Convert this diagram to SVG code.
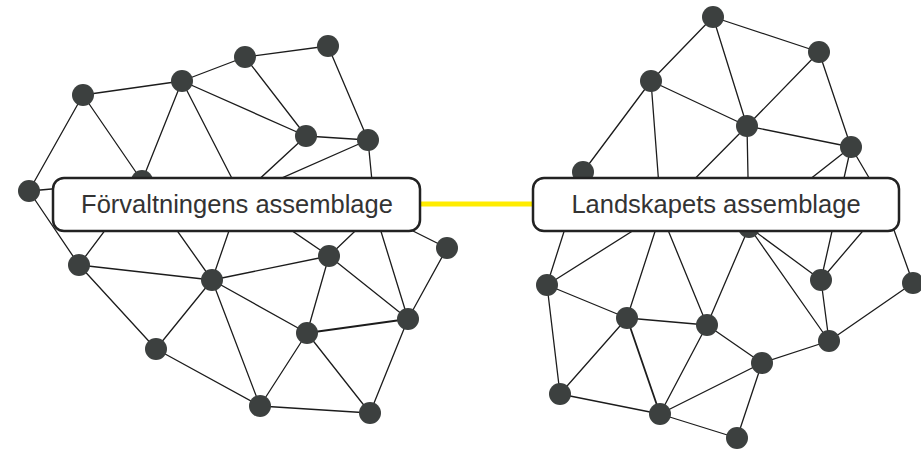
<svg xmlns="http://www.w3.org/2000/svg" width="921" height="451" viewBox="0 0 921 451">
<defs>
<style>
.e{stroke:#1c1c1c;stroke-width:1.3;fill:none;stroke-linecap:round}
.n{fill:#3c403f}
.box{fill:#ffffff;stroke:#222222;stroke-width:2.5}
.lbl{font-family:"Liberation Sans",Arial,sans-serif;font-size:25.5px;fill:#333333;text-anchor:middle}
.link{stroke:#ffec00;stroke-width:5;fill:none}
</style>
</defs>
<rect width="921" height="451" fill="#ffffff"/>
<g id="connectors">
<!-- left network -->
<line class="e" x1="83" y1="95" x2="182" y2="81"/>
<line class="e" x1="182" y1="81" x2="245" y2="57"/>
<line class="e" x1="245" y1="57" x2="328" y2="46"/>
<line class="e" x1="328" y1="46" x2="368" y2="140"/>
<line class="e" x1="245" y1="57" x2="306" y2="136"/>
<line class="e" x1="182" y1="81" x2="306" y2="136"/>
<line class="e" x1="306" y1="136" x2="368" y2="140"/>
<line class="e" x1="83" y1="95" x2="29" y2="191"/>
<line class="e" x1="83" y1="95" x2="142" y2="181"/>
<line class="e" x1="182" y1="81" x2="142" y2="181"/>
<line class="e" x1="182" y1="81" x2="241" y2="196"/>
<line class="e" x1="306" y1="136" x2="241" y2="196"/>
<line class="e" x1="368" y1="140" x2="241" y2="196"/>
<line class="e" x1="368" y1="140" x2="375" y2="212"/>
<line class="e" x1="29" y1="191" x2="142" y2="181"/>
<line class="e" x1="29" y1="191" x2="79" y2="265"/>
<line class="e" x1="142" y1="181" x2="79" y2="265"/>
<line class="e" x1="142" y1="181" x2="212" y2="280"/>
<line class="e" x1="241" y1="196" x2="212" y2="280"/>
<line class="e" x1="241" y1="196" x2="329" y2="256"/>
<line class="e" x1="375" y1="212" x2="329" y2="256"/>
<line class="e" x1="375" y1="212" x2="408" y2="319"/>
<line class="e" x1="375" y1="212" x2="447" y2="248"/>
<line class="e" x1="79" y1="265" x2="212" y2="280"/>
<line class="e" x1="79" y1="265" x2="156" y2="349"/>
<line class="e" x1="212" y1="280" x2="329" y2="256"/>
<line class="e" x1="212" y1="280" x2="156" y2="349"/>
<line class="e" x1="212" y1="280" x2="307" y2="333"/>
<line class="e" x1="212" y1="280" x2="260" y2="406"/>
<line class="e" x1="329" y1="256" x2="307" y2="333"/>
<line class="e" x1="329" y1="256" x2="408" y2="319"/>
<line class="e" x1="447" y1="248" x2="408" y2="319"/>
<line class="e" x1="307" y1="333" x2="408" y2="319" style="stroke-width:1.8"/>
<line class="e" x1="307" y1="333" x2="260" y2="406"/>
<line class="e" x1="307" y1="333" x2="370" y2="413"/>
<line class="e" x1="408" y1="319" x2="370" y2="413"/>
<line class="e" x1="156" y1="349" x2="260" y2="406"/>
<line class="e" x1="260" y1="406" x2="370" y2="413"/>
<!-- right network -->
<line class="e" x1="713" y1="17" x2="819" y2="52"/>
<line class="e" x1="713" y1="17" x2="651" y2="81"/>
<line class="e" x1="713" y1="17" x2="747" y2="126"/>
<line class="e" x1="819" y1="52" x2="747" y2="126"/>
<line class="e" x1="819" y1="52" x2="851" y2="147"/>
<line class="e" x1="651" y1="81" x2="747" y2="126"/>
<line class="e" x1="651" y1="81" x2="583" y2="172"/>
<line class="e" x1="651" y1="81" x2="661" y2="213"/>
<line class="e" x1="747" y1="126" x2="851" y2="147"/>
<line class="e" x1="747" y1="126" x2="661" y2="213"/>
<line class="e" x1="747" y1="126" x2="749" y2="227"/>
<line class="e" x1="851" y1="147" x2="749" y2="227"/>
<line class="e" x1="851" y1="147" x2="821" y2="280"/>
<line class="e" x1="851" y1="147" x2="885" y2="205"/>
<line class="e" x1="583" y1="172" x2="547" y2="285"/>
<line class="e" x1="661" y1="213" x2="547" y2="285"/>
<line class="e" x1="661" y1="213" x2="627" y2="318"/>
<line class="e" x1="661" y1="213" x2="707" y2="325"/>
<line class="e" x1="749" y1="227" x2="707" y2="325"/>
<line class="e" x1="749" y1="227" x2="821" y2="280"/>
<line class="e" x1="749" y1="227" x2="829" y2="341"/>
<line class="e" x1="885" y1="205" x2="821" y2="280"/>
<line class="e" x1="885" y1="205" x2="913" y2="283"/>
<line class="e" x1="547" y1="285" x2="627" y2="318"/>
<line class="e" x1="547" y1="285" x2="560" y2="394"/>
<line class="e" x1="627" y1="318" x2="707" y2="325"/>
<line class="e" x1="627" y1="318" x2="560" y2="394"/>
<line class="e" x1="627" y1="318" x2="660" y2="414" style="stroke-width:1.8"/>
<line class="e" x1="707" y1="325" x2="660" y2="414"/>
<line class="e" x1="707" y1="325" x2="762" y2="363"/>
<line class="e" x1="821" y1="280" x2="829" y2="341"/>
<line class="e" x1="913" y1="283" x2="829" y2="341"/>
<line class="e" x1="829" y1="341" x2="762" y2="363"/>
<line class="e" x1="762" y1="363" x2="660" y2="414"/>
<line class="e" x1="762" y1="363" x2="737" y2="438"/>
<line class="e" x1="560" y1="394" x2="660" y2="414"/>
<line class="e" x1="660" y1="414" x2="737" y2="438"/>
</g>
<g id="left-nodes">
<g id="L1"><circle class="n" cx="83" cy="95" r="11"/></g>
<g id="L2"><circle class="n" cx="182" cy="81" r="11"/></g>
<g id="L3"><circle class="n" cx="245" cy="57" r="11"/></g>
<g id="L4"><circle class="n" cx="328" cy="46" r="11"/></g>
<g id="L5"><circle class="n" cx="306" cy="136" r="11"/></g>
<g id="L6"><circle class="n" cx="368" cy="140" r="11"/></g>
<g id="L7"><circle class="n" cx="142" cy="181" r="11"/></g>
<g id="L8"><circle class="n" cx="29" cy="191" r="11"/></g>
<g id="L9"><circle class="n" cx="79" cy="265" r="11"/></g>
<g id="L10"><circle class="n" cx="212" cy="280" r="11"/></g>
<g id="L11"><circle class="n" cx="329" cy="256" r="11"/></g>
<g id="L12"><circle class="n" cx="447" cy="248" r="11"/></g>
<g id="L13"><circle class="n" cx="307" cy="333" r="11"/></g>
<g id="L14"><circle class="n" cx="408" cy="319" r="11"/></g>
<g id="L15"><circle class="n" cx="156" cy="349" r="11"/></g>
<g id="L16"><circle class="n" cx="260" cy="406" r="11"/></g>
<g id="L17"><circle class="n" cx="370" cy="413" r="11"/></g>
<g id="LH1"><circle class="n" cx="241" cy="196" r="11"/></g>
<g id="LH2"><circle class="n" cx="375" cy="212" r="11"/></g>
</g>
<g id="right-nodes">
<g id="R1"><circle class="n" cx="713" cy="17" r="11"/></g>
<g id="R2"><circle class="n" cx="819" cy="52" r="11"/></g>
<g id="R3"><circle class="n" cx="651" cy="81" r="11"/></g>
<g id="R4"><circle class="n" cx="747" cy="126" r="11"/></g>
<g id="R5"><circle class="n" cx="851" cy="147" r="11"/></g>
<g id="R6"><circle class="n" cx="583" cy="172" r="11"/></g>
<g id="R7"><circle class="n" cx="547" cy="285" r="11"/></g>
<g id="R8"><circle class="n" cx="627" cy="318" r="11"/></g>
<g id="R9"><circle class="n" cx="707" cy="325" r="11"/></g>
<g id="R10"><circle class="n" cx="821" cy="280" r="11"/></g>
<g id="R11"><circle class="n" cx="913" cy="283" r="11"/></g>
<g id="R12"><circle class="n" cx="829" cy="341" r="11"/></g>
<g id="R13"><circle class="n" cx="762" cy="363" r="11"/></g>
<g id="R14"><circle class="n" cx="560" cy="394" r="11"/></g>
<g id="R15"><circle class="n" cx="660" cy="414" r="11"/></g>
<g id="R16"><circle class="n" cx="737" cy="438" r="11"/></g>
<g id="RH3"><circle class="n" cx="749" cy="227" r="11"/></g>
<g id="RH4"><circle class="n" cx="661" cy="213" r="11"/></g>
<g id="RH5"><circle class="n" cx="885" cy="205" r="11"/></g>
</g>
<g id="link">
<line class="link" x1="420" y1="204" x2="533" y2="204"/>
</g>
<g id="label-left">
<rect class="box" x="53" y="178" width="367" height="53" rx="11"/>
<text class="lbl" x="237" y="213">Förvaltningens assemblage</text>
</g>
<g id="label-right">
<rect class="box" x="533" y="178" width="366" height="53" rx="11"/>
<text class="lbl" x="716" y="213">Landskapets assemblage</text>
</g>
</svg>
